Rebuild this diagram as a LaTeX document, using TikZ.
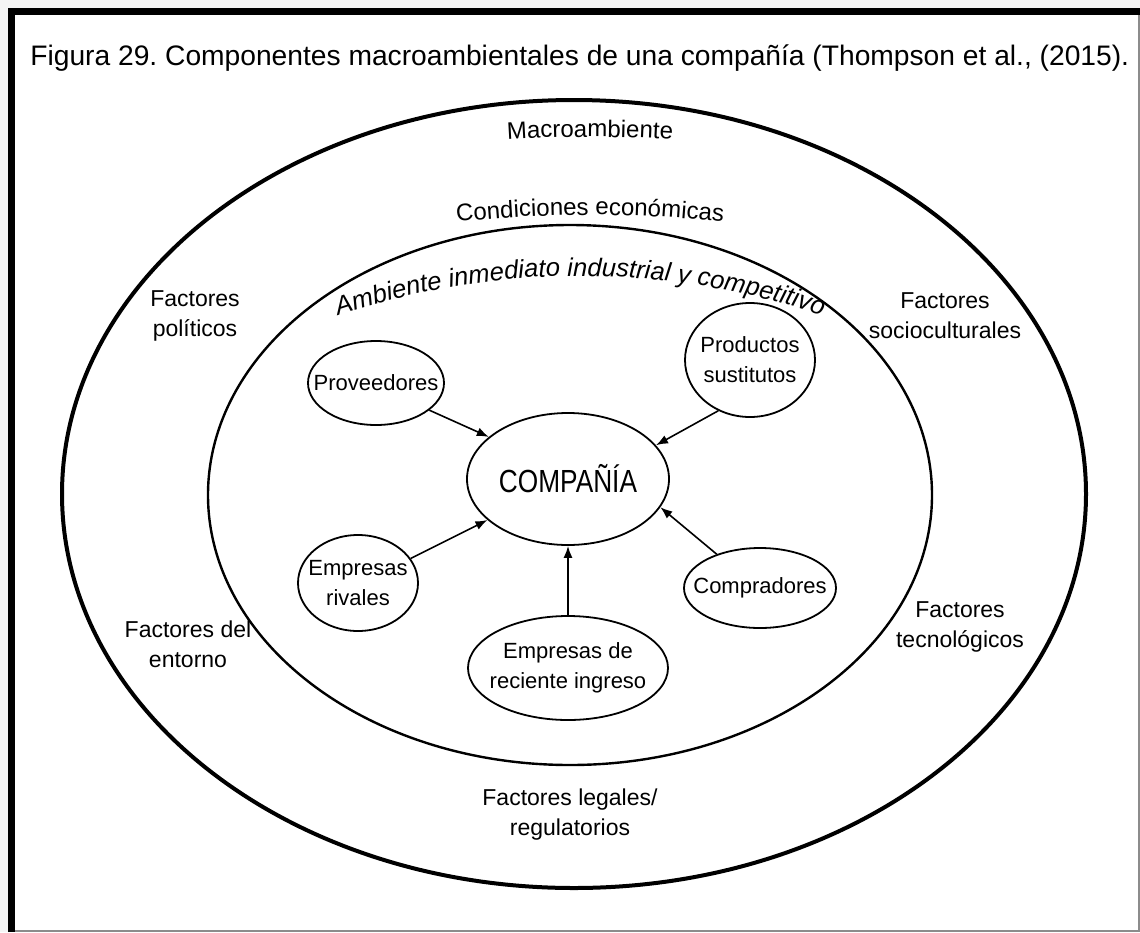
\documentclass[tikz,border=0pt]{standalone}
\usepackage{fontspec}
\setmainfont{Liberation Sans}
\usepackage{tikz}
\usetikzlibrary{positioning,arrows.meta,shapes.geometric,decorations.text}

\newcommand\labelfont{\fontsize{11.5}{15}\selectfont}
\newcommand\arcfont{\fontsize{12}{14}\selectfont}
\frenchspacing

\begin{document}
\begin{tikzpicture}[x=0.5pt, y=-0.5pt,
    actor/.style={draw, ellipse, line width=0.9pt, inner xsep=-40pt, inner ysep=-40pt,
      align=center, font=\fontsize{11}{15}\selectfont},
    factor/.style={align=center, font=\labelfont},
    >={Latex[length=6pt,width=4.5pt]}]
    \useasboundingbox (0,0) rectangle (1140,932);
    % marco
    \fill[black!4] (0,0) rectangle (1140,932);
    \fill[white] (8,8) rectangle (1139,931);
    \draw[black!45, line width=0.6pt] (1139,8) -- (1139,931) -- (8,931);
    \draw[line width=3.6pt] (11.5,932) -- (11.5,11.5) -- (1140,11.5);
    \node[anchor=base west, inner sep=0pt, font=\fontsize{14.1}{16}\selectfont] (title) at (30,65)
      {Figura 29. Componentes macroambientales de una compañía (Thompson et al., (2015).};

    % ambientes
    \draw[line width=2pt] (574,494) ellipse [x radius=512, y radius=394];
    \draw[line width=1.2pt] (570,495) ellipse [x radius=362, y radius=270];
    \path[decorate, decoration={text along path, text align=center, text={|\arcfont|Macroambiente}}]
      (590,1437) ++(-95:1300) arc[start angle=-95, end angle=-85, radius=1300];
    \path[decorate, decoration={text along path, text align=center, text={|\arcfont|Condiciones económicas}}]
      (590,1482) ++(-97:1267) arc[start angle=-97, end angle=-83, radius=1267];
    \path[decorate, decoration={text along path, text align=center,
        text={|\fontsize{12.8}{15}\selectfont\itshape|Ambiente inmediato industrial y competitivo}}]
      (580,1036) ++(-110:760) arc[start angle=-110, end angle=-70, radius=760];

    % factores
    \node[factor] (pol) at (195,316) {Factores\\políticos};
    \node[factor] (soc) at (945,316) {Factores\\socioculturales};
    \node[factor] (ent) at (188,644) {Factores del\\entorno};
    \node[factor] (tec) at (960,627) {Factores\\tecnológicos};
    \node[factor] (leg) at (570,815) {Factores legales/\\regulatorios};

    % fuerzas competitivas
    \node[actor, minimum width=101pt, minimum height=66pt, font=\fontsize{16}{18}\selectfont] (comp) at (568,479) {\scalebox{0.82}[1]{COMPAÑÍA}};
    \node[actor, minimum width=68pt, minimum height=42pt] (prov) at (376,383) {Proveedores};
    \node[actor, minimum width=65pt, minimum height=57pt] (sust) at (750,360) {Productos\\sustitutos};
    \node[actor, minimum width=60pt, minimum height=48pt] (riv) at (358,583) {Empresas\\rivales};
    \node[actor, minimum width=76pt, minimum height=40pt] (compr) at (760,588) {Compradores};
    \node[actor, minimum width=100pt, minimum height=52pt] (nue) at (568,668) {Empresas de\\reciente ingreso};

    \draw[->, line width=0.8pt] (prov.-27) -- (comp.152);
    \draw[->, line width=0.8pt] (sust.238) -- (comp.21);
    \draw[->, line width=0.8pt] (riv.25) -- (comp.207);
    \draw[->, line width=0.8pt] (compr.142) -- (comp.-17);
    \draw[->, line width=0.8pt] (nue.north) -- (comp.south);
\end{tikzpicture}
\end{document}
